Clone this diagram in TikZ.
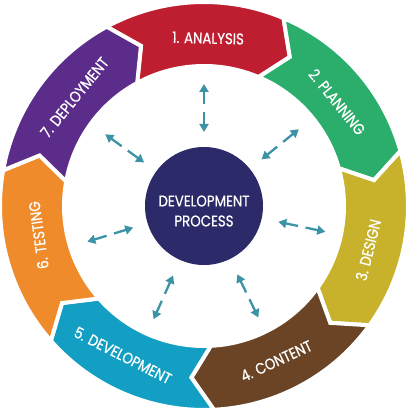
\documentclass[tikz,border=0pt]{standalone}
\usepackage{fontspec}
\setmainfont{Poppins}[FakeStretch=0.86, FakeBold=0.7]
\usepackage{tikz}
\usetikzlibrary{calc,arrows.meta}
\definecolor{analysis}{HTML}{BF1E31}
\definecolor{planning}{HTML}{2BAE6B}
\definecolor{design}{HTML}{C8B22C}
\definecolor{content}{HTML}{6A4425}
\definecolor{develop}{HTML}{129FC3}
\definecolor{testing}{HTML}{EF8B2A}
\definecolor{deploy}{HTML}{5B2C8A}
\definecolor{navy}{HTML}{2C2A69}
\definecolor{teal}{HTML}{3D93A6}
\tikzset{
  seg/.style={draw=white, line width=4pt, line join=miter},
  lab/.style={text=white, inner sep=1pt, font=\fontsize{15.5}{17}\selectfont},
  hub/.style={circle, fill=navy, minimum size=118pt, inner sep=0pt},
  title/.style={text=white, align=center, inner sep=0pt, font=\fontsize{15.5}{20}\selectfont},
  link/.style={draw=teal, line width=2.3pt, -{Triangle[width=9pt,length=8pt]}}
}

\begin{document}
\begin{tikzpicture}[x=1pt,y=1pt]
  \useasboundingbox (-204,-205) rectangle (206,206);

  % ring segments, clockwise
  \draw[seg, fill=analysis] (118.5:204) arc[start angle=118.5, end angle=67.07, radius=204]
    -- (60.07:172) -- (67.07:140) arc[start angle=67.07, end angle=118.5, radius=140]
    -- (111.5:172) -- cycle;
  \draw[seg, fill=planning] (67.07:204) arc[start angle=67.07, end angle=15.64, radius=204]
    -- (8.64:172) -- (15.64:140) arc[start angle=15.64, end angle=67.07, radius=140]
    -- (60.07:172) -- cycle;
  \draw[seg, fill=design] (15.64:204) arc[start angle=15.64, end angle=-35.79, radius=204]
    -- (-42.79:172) -- (-35.79:140) arc[start angle=-35.79, end angle=15.64, radius=140]
    -- (8.64:172) -- cycle;
  \draw[seg, fill=content] (-35.79:204) arc[start angle=-35.79, end angle=-87.22, radius=204]
    -- (-94.22:172) -- (-87.22:140) arc[start angle=-87.22, end angle=-35.79, radius=140]
    -- (-42.79:172) -- cycle;
  \draw[seg, fill=develop] (-87.22:204) arc[start angle=-87.22, end angle=-138.65, radius=204]
    -- (-145.65:172) -- (-138.65:140) arc[start angle=-138.65, end angle=-87.22, radius=140]
    -- (-94.22:172) -- cycle;
  \draw[seg, fill=testing] (-138.65:204) arc[start angle=-138.65, end angle=-190.08, radius=204]
    -- (-197.08:172) -- (-190.08:140) arc[start angle=-190.08, end angle=-138.65, radius=140]
    -- (-145.65:172) -- cycle;
  \draw[seg, fill=deploy] (169.92:204) arc[start angle=169.92, end angle=118.5, radius=204]
    -- (111.5:172) -- (118.5:140) arc[start angle=118.5, end angle=169.92, radius=140]
    -- (162.92:172) -- cycle;

  % stage labels
  \node[lab, rotate=-1.4] (analysis) at (88.6:168) {1. ANALYSIS};
  \node[lab, rotate=-51] (planning) at (38:169) {2. PLANNING};
  \node[lab, rotate=76] (design) at (-15:170) {3. DESIGN};
  \node[lab, rotate=25] (content) at (-65:171) {4. CONTENT};
  \node[lab, rotate=-27] (develop) at (-118.5:170) {5. DEVELOPMENT};
  \node[lab, rotate=98] (testing) at (190:168) {6. TESTING};
  \node[lab, rotate=51] (deploy) at (140:169) {7. DEPLOYMENT};

  % centre
  \node[hub] (hub) at (0,0) {};
  \node[title] (title) at ($(hub.center)+(0,-5)$) {DEVELOPMENT\\PROCESS};

  % double arrows
  \coordinate (i1) at (90:74);   \coordinate (o1) at (90:122);
  \coordinate (i2) at (39:74);   \coordinate (o2) at (39:122);
  \coordinate (i3) at (-12:76);  \coordinate (o3) at (-12:124);
  \coordinate (i4) at (-64:76);  \coordinate (o4) at (-64:124);
  \coordinate (i5) at (-114:76); \coordinate (o5) at (-114:124);
  \coordinate (i6) at (197:74);  \coordinate (o6) at (197:122);
  \coordinate (i7) at (144:74);  \coordinate (o7) at (144:122);
  \draw[link] ($(i1)!0.42!(o1)$) -- (i1); \draw[link] ($(i1)!0.58!(o1)$) -- (o1);
  \draw[link] ($(i2)!0.42!(o2)$) -- (i2); \draw[link] ($(i2)!0.58!(o2)$) -- (o2);
  \draw[link] ($(i3)!0.42!(o3)$) -- (i3); \draw[link] ($(i3)!0.58!(o3)$) -- (o3);
  \draw[link] ($(i4)!0.42!(o4)$) -- (i4); \draw[link] ($(i4)!0.58!(o4)$) -- (o4);
  \draw[link] ($(i5)!0.42!(o5)$) -- (i5); \draw[link] ($(i5)!0.58!(o5)$) -- (o5);
  \draw[link] ($(i6)!0.42!(o6)$) -- (i6); \draw[link] ($(i6)!0.58!(o6)$) -- (o6);
  \draw[link] ($(i7)!0.42!(o7)$) -- (i7); \draw[link] ($(i7)!0.58!(o7)$) -- (o7);
\end{tikzpicture}
\end{document}
